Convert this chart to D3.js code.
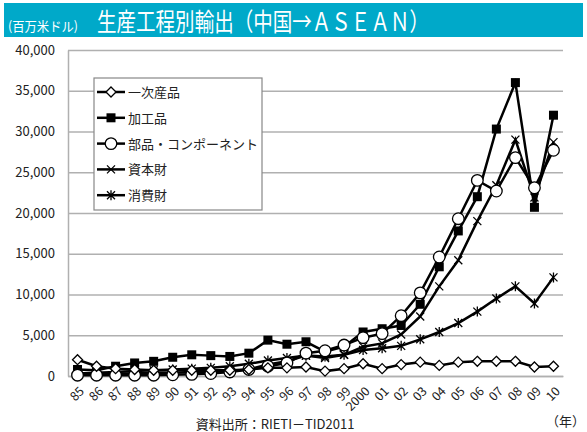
<html>
<head>
<meta charset="utf-8">
<script src="https://d3js.org/d3.v7.min.js"></script>
<style>
body { margin: 0; background: #fff; }
text { font-family: "Noto Sans CJK JP", "Noto Sans", sans-serif; }
</style>
</head>
<body>
<div id="canvas"></div>
<script>

var width = 587;
var height = 432;

// data (million USD)
var years = ["85","86","87","88","89","90","91","92","93","94","95","96","97","98","99","2000","01","02","03","04","05","06","07","08","09","10"];
var seriesNames = ["一次産品", "加工品", "部品・コンポーネント", "資本財", "消費財"];
var primary   = [2000,1200,900,800,700,700,700,700,700,800,1000,1000,1100,600,900,1500,900,1400,1700,1300,1700,1800,1800,1800,1100,1200];
var processed = [800,700,1200,1600,1800,2300,2600,2500,2400,2800,4400,3900,4200,3000,3600,5400,5800,6200,8800,13400,17800,22000,30300,36000,20700,32000];
var parts     = [100,100,100,100,100,150,200,300,500,800,1200,1600,2800,3100,3800,4700,5200,7400,10200,14600,19300,24000,22700,26800,23100,27700];
var capital   = [200,200,300,300,400,400,500,500,600,800,1400,1800,2500,2200,2600,3600,4000,5100,7300,11000,14200,19000,23400,29000,21900,28700];
var consumer  = [300,400,500,600,700,800,900,1000,1200,1500,1900,2200,2500,2400,2600,3200,3400,3700,4500,5400,6500,7900,9500,11000,8900,12100];
var yTicks = [0,5000,10000,15000,20000,25000,30000,35000,40000];

var allSeries = [primary, processed, parts, capital, consumer];
var markers = ["diamond", "square", "circle", "cross", "star"];

var svg = d3.select("#canvas").append("svg").attr("width", width).attr("height", height);

// title bar
svg.append("rect").attr("x", 4).attr("y", 3).attr("width", 579).attr("height", 34).attr("fill", "#00a9c9");
svg.append("text").attr("x", 8).attr("y", 31).attr("fill", "#fff").attr("font-size", 13)
    .attr("textLength", 70).attr("lengthAdjust", "spacingAndGlyphs")
    .text("(百万米ドル)");
svg.append("text").attr("x", 97).attr("y", 31).attr("fill", "#fff").attr("font-size", 25)
    .attr("textLength", 332).attr("lengthAdjust", "spacingAndGlyphs")
    .text("生産工程別輸出（中国→ＡＳＥＡＮ）");

var plotLeft = 68, plotRight = 563, plotTop = 50, plotBottom = 376;

var x = d3.scalePoint().domain(years).range([plotLeft, plotRight]).padding(0.5);
var y = d3.scaleLinear().domain([0, 40000]).range([plotBottom, plotTop]);

// y axis + grid
var yAxis = svg.append("g").attr("transform", "translate(" + plotLeft + ",0)")
    .call(d3.axisLeft(y).tickValues(yTicks).tickFormat(d3.format(",")).tickSize(-(plotRight - plotLeft)).tickSizeOuter(0).tickPadding(13));
yAxis.selectAll(".tick line").attr("stroke", "#b0b0b0").attr("stroke-width", 1.5);
yAxis.select(".domain").attr("stroke", "#b0b0b0").attr("stroke-width", 1.5);
yAxis.selectAll("text").attr("font-size", 13).attr("fill", "#222");

// x axis
var xAxis = svg.append("g").attr("transform", "translate(0," + plotBottom + ")")
    .call(d3.axisBottom(x).tickSize(0).tickPadding(0));
xAxis.select(".domain").attr("stroke", "#b0b0b0").attr("stroke-width", 1.5);
xAxis.selectAll("text")
    .attr("font-size", 12.5).attr("fill", "#222")
    .attr("text-anchor", "end")
    .attr("dy", 0)
    .attr("transform", "translate(7,16) rotate(-45)");

svg.append("text").attr("x", 546).attr("y", 426).attr("font-size", 13).attr("fill", "#222").text("（年）");
svg.append("text").attr("x", 275).attr("y", 429).attr("font-size", 13).attr("fill", "#222")
    .attr("text-anchor", "middle").text("資料出所：RIETI－TID2011");

var drawMarker = function(g, type, cx, cy) {
    if (type == "diamond") {
        g.append("path").attr("d", "M" + cx + "," + (cy - 5) + "L" + (cx + 5) + "," + cy + "L" + cx + "," + (cy + 5) + "L" + (cx - 5) + "," + cy + "Z")
            .attr("fill", "#fff").attr("stroke", "#000").attr("stroke-width", 1.3);
    } else if (type == "square") {
        g.append("rect").attr("x", cx - 4.5).attr("y", cy - 4.5).attr("width", 9).attr("height", 9).attr("fill", "#000");
    } else if (type == "circle") {
        g.append("circle").attr("cx", cx).attr("cy", cy).attr("r", 5.8)
            .attr("fill", "#fff").attr("stroke", "#000").attr("stroke-width", 1.3);
    } else if (type == "cross") {
        g.append("path").attr("d", "M" + (cx - 4) + "," + (cy - 4) + "L" + (cx + 4) + "," + (cy + 4) + "M" + (cx + 4) + "," + (cy - 4) + "L" + (cx - 4) + "," + (cy + 4))
            .attr("stroke", "#000").attr("stroke-width", 1.3);
    } else {
        g.append("path").attr("d", "M" + (cx - 4) + "," + (cy - 4) + "L" + (cx + 4) + "," + (cy + 4) + "M" + (cx + 4) + "," + (cy - 4) + "L" + (cx - 4) + "," + (cy + 4) + "M" + cx + "," + (cy - 5) + "L" + cx + "," + (cy + 5))
            .attr("stroke", "#000").attr("stroke-width", 1.3);
    }
};

var line = d3.line().x(function(d, i) { return x(years[i]); }).y(function(d) { return y(d); });

// draw lines, then markers (last series first so 一次産品 ends on top)
var order = [4, 3, 1, 2, 0];
order.forEach(function(s) {
    var g = svg.append("g");
    g.append("path").datum(allSeries[s]).attr("d", line)
        .attr("fill", "none").attr("stroke", "#000").attr("stroke-width", 2.5);
    allSeries[s].forEach(function(v, i) {
        drawMarker(g, markers[s], x(years[i]), y(v));
    });
});

// legend
var lg = svg.append("g");
lg.append("rect").attr("x", 94).attr("y", 78).attr("width", 168).attr("height", 132)
    .attr("fill", "#fff").attr("stroke", "#888").attr("stroke-width", 1.2);
seriesNames.forEach(function(name, i) {
    var ly = 92 + i * 25.8;
    lg.append("line").attr("x1", 97).attr("x2", 125).attr("y1", ly).attr("y2", ly)
        .attr("stroke", "#000").attr("stroke-width", 2.5);
    drawMarker(lg, markers[i], 111, ly);
    lg.append("text").attr("x", 128).attr("y", ly + 5).attr("font-size", 13).attr("fill", "#222").text(name);
});

</script>
</body>
</html>
